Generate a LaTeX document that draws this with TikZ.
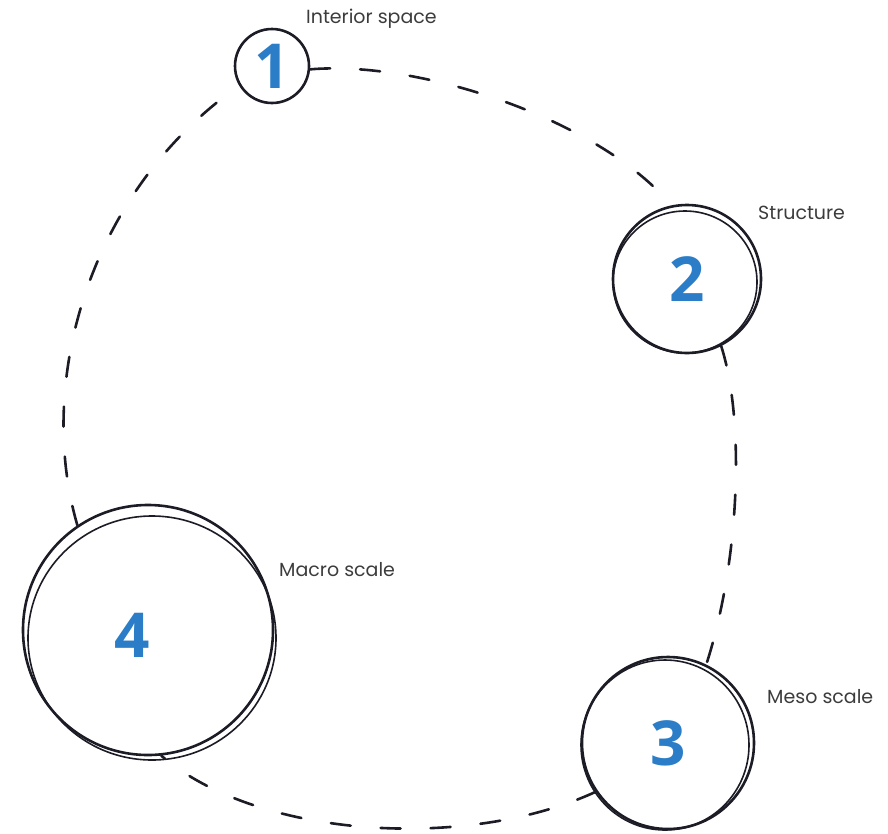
\documentclass[tikz,border=0pt]{standalone}
\usepackage{fontspec}
\setmainfont{Poppins}
\newfontfamily\numfont{Open Sans}
\definecolor{numblue}{RGB}{42,125,198}
\definecolor{ink}{RGB}{28,28,38}
\definecolor{labelgrey}{RGB}{60,60,60}
\begin{document}
\begin{tikzpicture}[x=1pt,y=-1pt,
  ring/.style={circle,draw=ink,line width=2.6pt,inner sep=0pt},
  numtxt/.style={text=numblue,font=\numfont\bfseries\fontsize{62}{62}\selectfont},
  lbl/.style={anchor=west,text=labelgrey,font=\fontsize{19}{21}\selectfont,inner sep=0pt},
  link/.style={draw=ink,line width=2.6pt,dash pattern=on 20pt off 30pt,line cap=round}]
\useasboundingbox (0,0) rectangle (888,833);
% circles
\node[ring,minimum size=74pt] (c1) at (272,66) {};
\node[ring,minimum size=148pt] (c2) at (687,279) {};
\node[ring,minimum size=172pt] (c3) at (668,743) {};
\node[ring,minimum size=250pt] (c4) at (148,630) {};
% sketchy second strokes
\draw[ink,line width=1.6pt] (c2.center) ++(-2,3) circle[x radius=72pt,y radius=71pt];
\draw[ink,line width=1.6pt] (c3.center) ++(-3,2) circle[x radius=84pt,y radius=85pt];
\draw[ink,line width=1.6pt] (c4.center) ++(4,8) circle[x radius=124pt,y radius=122pt];
% numbers
\node[numtxt] (n1) at (c1.center) {1};
\node[numtxt] (n2) at (c2.center) {2};
\node[numtxt] (n3) at (c3.center) {3};
\node[numtxt] (n4) at (132,635) {4};
% labels
\node[lbl] (l1) at (306,19) {Interior space};
\node[lbl] (l2) at (758,213) {Structure};
\node[lbl] (l3) at (767,697) {Meso scale};
\node[lbl] (l4) at (279,570) {Macro scale};
% dashed links
\draw[link] (c1.-5) .. controls (420,60) and (600,120) .. (c2.102);
\draw[link] (c2.-63) .. controls (745,420) and (740,560) .. (c3.64);
\draw[link] (c3.214) .. controls (470,850) and (260,840) .. (c4.-84);
\draw[link] (c4.124) .. controls (35,380) and (90,190) .. (c1.211);
\end{tikzpicture}
\end{document}
